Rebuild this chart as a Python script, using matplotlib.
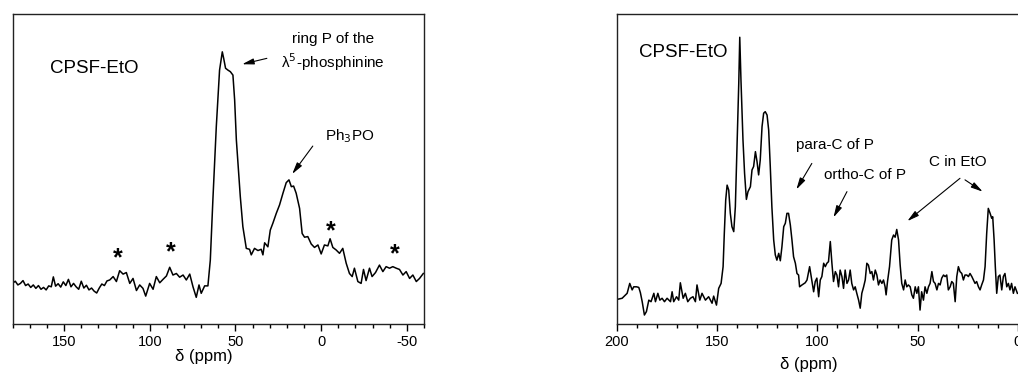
import numpy as np
import matplotlib.pyplot as plt
import matplotlib as mpl
from matplotlib.ticker import MultipleLocator

mpl.rcParams.update({
    "font.family": ["Liberation Sans", "DejaVu Sans"],
    "font.size": 10,
    "axes.linewidth": 1.0,
    "axes.edgecolor": "#222222",
    "axes.unicode_minus": False,
})

# 31P MAS NMR spectrum (ppm, intensity a.u.)
p31_ppm = [
    180, 178.5, 177, 175.5, 174, 172.5, 171, 169.5, 168, 166.5, 165, 163.5,
    162, 160.5, 159, 157.5, 156.3, 155, 153.5, 152, 150.5, 149, 147.5, 146,
    144.5, 143, 141.5, 140, 138.5, 137, 135.5, 134, 132.5, 131, 129.5, 128,
    126.5, 125, 123.4, 121.4, 119.5, 117.6, 115.6, 113.7, 111.7, 109.8, 107.8,
    105.9, 104.0, 102.4, 100.1, 98.1, 96.2, 94.2, 92.3, 90.3, 88.4, 86.5, 84.5,
    82.6, 80.6, 78.7, 76.7, 74.8, 72.9, 71.3, 70.0, 68.0, 66.1, 64.7, 63.2,
    61.2, 59.3, 57.7, 56.9, 55.8, 54.4, 53.0, 51.5, 50.5, 49.5, 48.4, 47.2,
    45.7, 43.7, 41.8, 40.8, 38.9, 36.9, 35.0, 34.0, 33.0, 31.1, 29.7, 28.2,
    26.2, 24.3, 22.3, 20.4, 18.8, 17.4, 16.1, 14.6, 12.6, 11.1, 9.7, 7.8, 5.8,
    3.9, 1.9, 0.0, -1.9, -3.9, -5.2, -6.8, -8.7, -10.7, -12.6, -14.6, -16.5,
    -18.1, -19.4, -21.4, -23.3, -24.7, -26.2, -28.2, -29.7, -31.7, -34.0,
    -36.0, -37.9, -39.9, -41.8, -43.8, -45.7, -47.7, -49.6, -51.6, -53.5,
    -55.5, -57.4, -59.6,
]
p31_int = [
    13.2, 13.8, 12.6, 13.1, 14.0, 12.4, 12.9, 11.8, 12.6, 11.5, 12.4, 11.2,
    11.8, 11.0, 12.3, 12.0, 15.2, 12.2, 13.0, 11.9, 13.6, 12.4, 14.4, 12.0,
    13.1, 12.0, 11.2, 13.8, 11.6, 12.5, 11.0, 11.6, 10.6, 10.0, 11.6, 12.9,
    12.4, 13.9, 14.2, 15.3, 13.7, 17.2, 16.1, 16.6, 13.1, 14.7, 10.8,
    12.6, 11.5, 9.0, 13.1, 11.2, 15.3, 13.3, 14.4, 15.5, 18.3, 15.8, 16.3,
    15.1, 15.8, 14.2, 16.1, 12.0, 8.6, 12.6, 9.9, 12.3, 12.3, 20.6, 40.0,
    63.7, 81.9, 87.8, 85.7, 82.5, 81.9, 81.4, 80.3, 72.3, 59.4, 50.8, 41.1,
    31.4, 24.4, 24.1, 22.3, 24.4, 23.7, 24.1, 22.3, 26.2, 24.9, 30.3, 32.5,
    35.7, 38.4, 42.2, 45.6, 46.5, 44.3, 44.5, 42.2, 37.3, 29.2, 28.0, 28.2, 25.8,
    24.7, 25.5, 22.6, 25.5, 25.2, 27.5, 24.7, 23.9, 22.8, 24.4, 19.6, 16.3,
    15.3, 18.0, 13.7, 13.1, 17.6, 14.0, 18.0, 15.3, 16.6, 19.0,
    16.9, 18.5, 18.0, 18.5, 18.0, 17.6, 15.8, 16.9, 14.7, 15.8,
    13.7, 14.7, 16.3,
]

# spinning sidebands (ppm, intensity)
star_ppm = [118.5, 88.0, -5.4, -42.7]
star_int = [21.2, 23.0, 29.8, 22.6]

# 13C CP/MAS NMR spectrum (ppm, intensity a.u.)
c13_ppm = [
    199.3, 197.2, 194.7, 193.4, 192.2, 191.4, 190.0, 188.9, 188.1, 187.2, 186.1,
    185.1, 183.9, 182.8, 181.4, 180.6, 179.4, 178.4, 177.3, 176.1, 174.8, 173.1,
    172.3, 171.5, 170.1, 169.0, 168.2, 166.8, 165.7, 164.5, 163.2, 161.9, 160.7,
    159.9, 158.5, 157.4, 155.7, 154.1, 152.4, 151.6, 150.2, 149.1, 147.9, 146.9,
    146.3, 145.6, 144.9, 144.1, 143.3, 142.5, 141.6, 140.8, 140.0, 139.1, 138.6,
    138.0, 137.0, 136.2, 135.3, 134.5, 133.3, 132.5, 131.7, 130.8, 130.0, 129.2,
    128.4, 127.5, 126.7, 125.9, 125.0, 124.2, 123.4, 122.6, 121.7, 120.9, 120.1,
    119.2, 118.4, 117.6, 116.7, 115.9, 115.1, 114.3, 113.4, 112.6, 111.8, 110.9,
    110.1, 109.3, 108.8, 107.6, 106.0, 105.1, 103.8, 103.0, 101.8, 101.0, 100.2,
    99.3, 98.5, 97.7, 96.8, 96.0, 95.2, 94.4, 93.5, 92.7, 91.9, 91.0, 90.2, 89.4,
    88.6, 87.7, 86.9, 86.1, 85.2, 84.4, 83.6, 82.8, 81.9, 81.1, 80.3, 79.4, 78.6,
    77.8, 76.9, 76.1, 75.3, 74.5, 73.6, 72.8, 72.0, 71.1, 70.3, 69.5, 68.7, 67.8,
    67.0, 66.2, 65.7, 65.0, 64.0, 62.9, 62.0, 61.2, 60.4, 59.5, 58.7, 57.9, 57.0,
    56.2, 55.4, 54.6, 53.7, 52.9, 52.1, 51.2, 50.4, 49.6, 48.8, 48.0, 47.1, 46.3,
    45.4, 44.6, 43.8, 42.9, 42.1, 41.3, 40.4, 39.6, 38.8, 38.0, 37.1, 36.3, 35.5,
    34.7, 33.8, 33.0, 32.2, 31.3, 30.5, 29.7, 28.9, 28.0, 27.2, 26.4, 25.5, 24.7,
    23.9, 23.0, 22.2, 21.4, 20.6, 19.7, 18.9, 18.1, 17.2, 16.4, 15.6, 14.8, 13.9,
    13.1, 12.6, 11.9, 11.3, 10.6, 9.8, 9.0, 8.1, 7.3, 6.5, 5.6, 4.8, 4.0, 3.2,
    2.3, 1.5, 0.3,
]
c13_int = [
    8.0, 8.3, 9.9, 13.1, 11.0, 12.0, 12.0, 11.8, 10.1, 7.2, 2.9,
    4.0, 7.7, 7.2, 9.9, 7.2, 9.9, 7.7, 8.3, 7.2, 8.3, 7.2,
    10.4, 7.2, 8.8, 7.7, 13.3, 8.3, 9.9, 7.2, 8.3, 8.8, 7.2,
    12.6, 7.7, 9.9, 7.7, 8.8, 6.7, 9.0, 6.1, 11.5, 13.1, 18.5,
    29.2, 40.0, 44.8, 43.2, 35.7, 31.4, 29.8, 37.8, 56.1, 77.6, 92.5,
    78.7, 59.4, 48.6, 40.2, 42.7, 44.3, 49.7, 50.8, 55.6, 52.4, 48.1,
    52.9, 63.7, 68.0, 68.5, 67.4, 62.6, 50.8, 37.8, 27.1, 22.3, 20.6,
    22.8, 20.4, 24.9, 31.4, 32.5, 35.7, 35.7, 31.9, 27.1, 21.7, 19.6,
    16.3, 15.8, 12.0, 12.6, 13.3, 14.2, 18.5, 15.3, 10.4, 13.7, 14.8,
    8.8, 14.2, 15.3, 19.6, 18.5, 19.6, 20.1, 26.6, 19.6, 13.7, 16.9, 15.8, 12.0,
    17.4, 15.3, 11.5, 17.4, 13.1, 14.2, 17.4, 13.1, 11.0, 12.0, 9.9, 7.7, 5.1,
    9.9, 12.0, 14.2, 19.6, 19.0, 16.3, 16.9, 14.2, 17.4, 15.8, 12.6, 14.2, 13.1,
    14.2, 12.0, 9.4, 13.7, 18.5, 27.1, 28.7, 28.0, 30.5, 27.1, 19.0, 13.1, 11.0,
    14.2, 12.0, 12.6, 12.0, 9.4, 8.3, 12.0, 9.9, 12.0, 4.5, 10.4, 7.7, 12.0,
    9.9, 12.0, 13.1, 16.9, 13.7, 13.1, 11.0, 13.1, 12.6, 14.8, 15.8, 15.3,
    15.8, 11.0, 12.0, 13.7, 13.1, 7.2, 15.3, 18.5, 16.9, 16.3, 14.2, 15.8, 15.8,
    15.3, 16.3, 15.3, 14.2, 13.1, 13.7, 12.0, 11.0, 12.6, 14.2, 18.5, 29.2, 37.3,
    35.7, 34.1, 34.6, 27.1, 18.5, 9.9, 15.3, 15.8, 11.0, 15.3, 16.3, 12.0, 13.1,
    11.0, 13.1, 9.9, 12.0, 9.9,
]

fig = plt.figure(figsize=(10.18, 3.81), dpi=100)
ax1 = fig.add_axes([0.0125, 0.1496, 0.404, 0.8136])
ax2 = fig.add_axes([0.6056, 0.1496, 0.3944, 0.8136])

for ax in (ax1, ax2):
    ax.set_ylim(0, 100)
    ax.set_yticks([])
    ax.tick_params(axis="x", which="major", direction="out", length=5,
                   width=1.0, pad=3, labelsize=10.5)
    ax.tick_params(axis="x", which="minor", direction="out", length=3,
                   width=1.0)
    ax.xaxis.set_minor_locator(MultipleLocator(10))
    ax.xaxis.set_major_locator(MultipleLocator(50))

arrow_kw = dict(arrowstyle="-|>,head_length=0.7,head_width=0.18",
                color="black", lw=0.8, shrinkA=0, shrinkB=0)

# left: 31P
ax1.plot(p31_ppm, p31_int, color="black", lw=1.1)
ax1.set_xlim(180, -60)
ax1.set_xlabel("δ (ppm)", fontsize=12)
ax1.xaxis.set_label_coords(0.465, -0.08)
for x, y in zip(star_ppm, star_int):
    ax1.text(x, y, "*", fontsize=18, fontweight="bold", ha="center",
             va="center")
ax1.text(158.4, 82.3, "CPSF-EtO", fontsize=13.5, va="center", ha="left")
ax1.text(-7.0, 91.8, "ring P of the", fontsize=11, ha="center", va="center")
ax1.text(-7.0, 84.5, "λ$^5$-phosphinine", fontsize=11, ha="center",
         va="center")
ax1.annotate("", xy=(46.1, 83.8), xytext=(31.7, 85.7), arrowprops=arrow_kw)
ax1.text(-16.5, 60.5, "Ph$_3$PO", fontsize=11, ha="center", va="center")
ax1.annotate("", xy=(16.9, 48.4), xytext=(4.9, 57.4), arrowprops=arrow_kw)

# right: 13C
ax2.plot(c13_ppm, c13_int, color="black", lw=1.1)
ax2.set_xlim(200, 0)
ax2.spines["right"].set_visible(False)
ax2.set_xlabel("δ (ppm)", fontsize=12)
ax2.xaxis.set_label_coords(0.479, -0.105)
ax2.text(188.9, 87.6, "CPSF-EtO", fontsize=13.5, va="center", ha="left")
ax2.text(91.2, 57.7, "para-C of P", fontsize=11, ha="center", va="center")
ax2.annotate("", xy=(110.4, 43.4), xytext=(102.7, 51.8), arrowprops=arrow_kw)
ax2.text(76.1, 48.1, "ortho-C of P", fontsize=11, ha="center", va="center")
ax2.annotate("", xy=(91.9, 34.4), xytext=(85.2, 42.7), arrowprops=arrow_kw)
ax2.text(29.9, 52.4, "C in EtO", fontsize=11, ha="center", va="center")
ax2.annotate("", xy=(55.1, 33.2), xytext=(28.9, 47.0), arrowprops=arrow_kw)
ax2.annotate("", xy=(17.6, 42.7), xytext=(26.4, 46.5), arrowprops=arrow_kw)

fig.savefig("out.png", dpi=100)
